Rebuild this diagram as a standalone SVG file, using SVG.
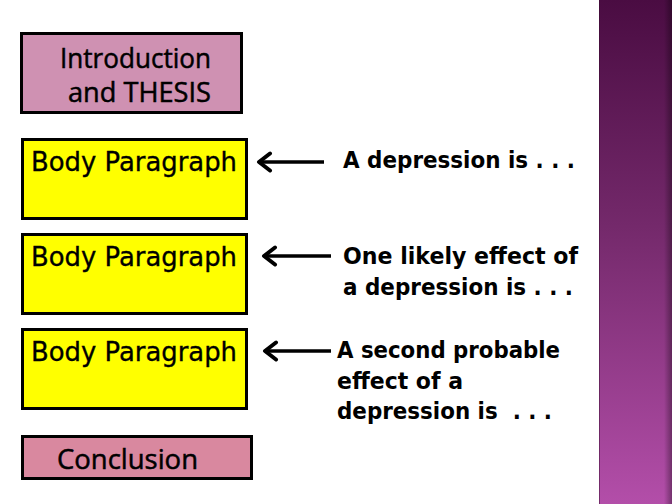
<svg xmlns="http://www.w3.org/2000/svg" width="672" height="504" viewBox="0 0 672 504">
<defs>
<linearGradient id="side" x1="0" y1="0" x2="0" y2="1">
<stop offset="0" stop-color="#4a0c42"/>
<stop offset="0.45" stop-color="#74296b"/>
<stop offset="1" stop-color="#b34ea9"/>
</linearGradient>
<linearGradient id="edge" x1="0" y1="0" x2="1" y2="0">
<stop offset="0" stop-color="#000" stop-opacity="0"/>
<stop offset="1" stop-color="#000" stop-opacity="0.35"/>
</linearGradient>
<marker id="head" viewBox="0 0 18 22" refX="15" refY="11" markerWidth="18" markerHeight="22" markerUnits="userSpaceOnUse" orient="auto">
<polyline points="4,2.5 15,11 4,19.5" fill="none" stroke="#000" stroke-width="4" stroke-linecap="round" stroke-linejoin="round"/>
</marker>
<style>
.box{stroke:#000;stroke-width:3}
.intro{fill:#cf91b2}
.body{fill:#ffff00}
.concl{fill:#d9889f}
.bt{font-family:"DejaVu Sans","Verdana",sans-serif;font-size:27px;fill:#000;stroke:#000;stroke-width:0.35}
.gt{font-family:"Open Sans","Lato",sans-serif;font-size:27px;fill:#000;stroke:#000;stroke-width:0.5}
.rt{font-family:"DejaVu Sans","Verdana",sans-serif;font-weight:bold;font-size:23px;fill:#000}
.arr{stroke:#000;stroke-width:3.4;fill:none;marker-end:url(#head)}
</style>
</defs>
<rect x="0" y="0" width="672" height="504" fill="#fff"/>
<g id="sidebar">
<rect x="599" y="0" width="73" height="504" fill="url(#side)"/>
<rect x="664" y="0" width="8" height="504" fill="url(#edge)"/>
<rect x="599" y="0" width="1" height="504" fill="#3a0a30" opacity="0.5"/>
</g>
<g id="intro">
<rect class="box intro" x="21.5" y="33.5" width="220" height="79"/>
<text class="gt" x="60" y="68" textLength="151" lengthAdjust="spacingAndGlyphs">Introduction</text>
<text class="gt" x="68" y="102" textLength="143" lengthAdjust="spacingAndGlyphs">and THESIS</text>
</g>
<g id="body1">
<rect class="box body" x="22.5" y="139.5" width="224" height="79"/>
<text class="bt" x="31" y="171" textLength="206" lengthAdjust="spacingAndGlyphs">Body Paragraph</text>
</g>
<g id="body2">
<rect class="box body" x="22.5" y="234.5" width="224" height="79"/>
<text class="bt" x="31" y="266" textLength="206" lengthAdjust="spacingAndGlyphs">Body Paragraph</text>
</g>
<g id="body3">
<rect class="box body" x="22.5" y="329.5" width="224" height="79"/>
<text class="bt" x="31" y="361" textLength="206" lengthAdjust="spacingAndGlyphs">Body Paragraph</text>
</g>
<g id="conclusion">
<rect class="box concl" x="22.5" y="436.5" width="229" height="42"/>
<text class="gt" x="57" y="469" textLength="141" lengthAdjust="spacingAndGlyphs">Conclusion</text>
</g>
<g id="label1">
<text class="rt" x="343" y="168" textLength="232" lengthAdjust="spacingAndGlyphs">A depression is . . .</text>
</g>
<g id="label2">
<text class="rt" x="343" y="264" textLength="235" lengthAdjust="spacingAndGlyphs">One likely effect of</text>
<text class="rt" x="343" y="295" textLength="230" lengthAdjust="spacingAndGlyphs">a depression is . . .</text>
</g>
<g id="label3">
<text class="rt" x="337" y="358" textLength="223" lengthAdjust="spacingAndGlyphs">A second probable</text>
<text class="rt" x="337" y="389" textLength="126" lengthAdjust="spacingAndGlyphs">effect of a</text>
<text class="rt" x="337" y="419" textLength="215" lengthAdjust="spacingAndGlyphs" xml:space="preserve" style="white-space:pre">depression is  . . .</text>
</g>
<g id="connectors">
<line class="arr" x1="324" y1="162" x2="259" y2="162"/>
<line class="arr" x1="331" y1="256" x2="264" y2="256"/>
<line class="arr" x1="331" y1="351" x2="265" y2="351"/>
</g>
</svg>
